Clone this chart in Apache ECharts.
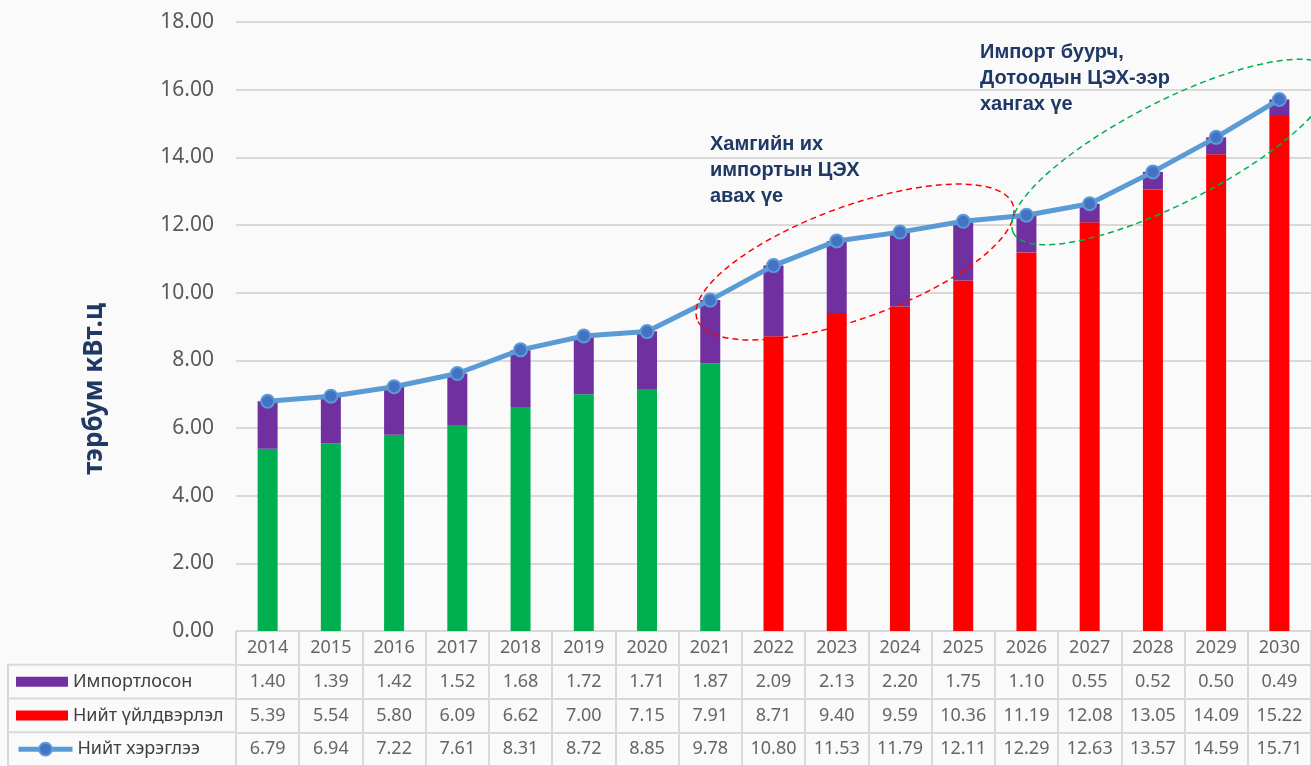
<!DOCTYPE html>
<html><head><meta charset="utf-8">
<script src="https://cdn.jsdelivr.net/npm/echarts@6/dist/echarts.min.js"></script>
<style>html,body{margin:0;padding:0;background:#fafafa}#c{width:1311px;height:766px}</style>
</head><body><div id="c"></div>
<script>
const years = ['2014','2015','2016','2017','2018','2019','2020','2021','2022','2023','2024','2025','2026','2027','2028','2029','2030'];
const imports = [1.40,1.39,1.42,1.52,1.68,1.72,1.71,1.87,2.09,2.13,2.20,1.75,1.10,0.55,0.52,0.50,0.49];
const production = [5.39,5.54,5.80,6.09,6.62,7.00,7.15,7.91,8.71,9.40,9.59,10.36,11.19,12.08,13.05,14.09,15.22];
const consumption = [6.79,6.94,7.22,7.61,8.31,8.72,8.85,9.78,10.80,11.53,11.79,12.11,12.29,12.63,13.57,14.59,15.71];
const seriesNames = ['Импортлосон','Нийт үйлдвэрлэл','Нийт хэрэглээ'];
const lastHistoricYear = '2021';
const yTicks = {min:0, max:18, interval:2};
const annotation1 = 'Хамгийн их\nимпортын ЦЭХ\nавах үе';
const annotation2 = 'Импорт буурч,\nДотоодын ЦЭХ-ээр\nхангах үе';
const yTitle = 'тэрбум кВт.ц';

const FONT = 'Noto Sans';
const GREY = '#404040';
const LINEC = '#d9d9d9';
const histIdx = years.indexOf(lastHistoricYear);

const tableRows = [years, imports.map(v=>v.toFixed(2)), production.map(v=>v.toFixed(2)), consumption.map(v=>v.toFixed(2))];
const cellData = [];
tableRows.forEach((row, r) => row.forEach((t, i) => cellData.push([i, r, t])));

const chart = echarts.init(document.getElementById('c'), null, {renderer:'canvas'});
const rowTop = 631, rowH = 135/4;
function legendCfg(name, idx, opts){
  return Object.assign({
    data:[name], left:16, top: rowTop + rowH*(idx+1) + rowH/2 - 11, padding:0,
    orient:'horizontal', selectedMode:false, itemGap:0,
    textStyle:{fontFamily:FONT, fontSize:18, color:GREY, lineHeight:22}
  }, opts);
}
chart.setOption({
  backgroundColor:'#fafafa',
  animation:false,
  grid:[
    {left:236, right:-3, top:22, bottom:135},
    {left:236, right:-3, top:631, height:135}
  ],
  legend:[
    legendCfg(seriesNames[0],0,{itemWidth:52,itemHeight:10,icon:'rect'}),
    legendCfg(seriesNames[1],1,{itemWidth:52,itemHeight:10,icon:'rect'}),
    legendCfg(seriesNames[2],2,{itemWidth:54,itemHeight:16, lineStyle:{width:5}})
  ],
  xAxis:[
    {type:'category', data:years, gridIndex:0, axisLine:{show:false}, axisTick:{show:false}, axisLabel:{show:false}},
    {type:'category', data:years, gridIndex:1, axisLine:{show:false}, axisTick:{show:false}, axisLabel:{show:false},
     splitLine:{show:true, lineStyle:{color:LINEC, width:2}}}
  ],
  yAxis:[
    {type:'value', gridIndex:0, min:yTicks.min, max:yTicks.max, interval:yTicks.interval,
     axisLine:{show:false}, axisTick:{show:false},
     axisLabel:{formatter:v=>v.toFixed(2), fontFamily:FONT, fontSize:21, color:'#595959', margin:22},
     splitLine:{lineStyle:{color:LINEC, width:2}}},
    {type:'category', gridIndex:1, data:['0','1','2','3'], inverse:true,
     axisLine:{show:false}, axisTick:{show:false}, axisLabel:{show:false},
     splitLine:{show:true, lineStyle:{color:LINEC, width:2}}}
  ],
  series:[
    {name:seriesNames[1], type:'bar', stack:'s', barWidth:20, xAxisIndex:0, yAxisIndex:0,
     itemStyle:{color:'#ff0000'},
     data: production.map((v,i)=> i<=histIdx ? {value:v, itemStyle:{color:'#00b050'}} : v)},
    {name:seriesNames[0], type:'bar', stack:'s', barWidth:20, xAxisIndex:0, yAxisIndex:0,
     itemStyle:{color:'#7030a0'}, data: imports},
    {name:seriesNames[2], type:'line', xAxisIndex:0, yAxisIndex:0, z:5,
     symbol:'circle', symbolSize:13,
     lineStyle:{color:'#5b9bd5', width:5},
     itemStyle:{color:'#4472c4', borderColor:'#5b9bd5', borderWidth:2},
     data: consumption},
    {type:'scatter', xAxisIndex:1, yAxisIndex:1, symbolSize:1, itemStyle:{color:'rgba(0,0,0,0)'},
     silent:true, data: cellData,
     label:{show:true, position:'inside', formatter:p=>p.data[2], fontFamily:FONT, fontSize:18, color:GREY}}
  ],
  graphic:[
    {type:'rect', z:1, shape:{x:8, y:rowTop+rowH, width:228, height:rowH*3},
     style:{fill:'none', stroke:LINEC, lineWidth:2}},
    {type:'line', z:1, shape:{x1:8, y1:rowTop+rowH*2, x2:236, y2:rowTop+rowH*2}, style:{stroke:LINEC, lineWidth:2}},
    {type:'line', z:1, shape:{x1:8, y1:rowTop+rowH*3, x2:236, y2:rowTop+rowH*3}, style:{stroke:LINEC, lineWidth:2}},
    {type:'text', z:10, x:95, y:389, rotation:Math.PI/2,
     style:{text:yTitle, font:'bold 26px "Noto Sans"', fill:'#1f3864', align:'center', verticalAlign:'middle'}},
    {type:'text', z:10, x:710, y:131,
     style:{text:annotation1, font:'bold 20px "Liberation Sans"', fill:'#1f3864', lineHeight:26}},
    {type:'text', z:10, x:980, y:39,
     style:{text:annotation2, font:'bold 20px "Liberation Sans"', fill:'#1f3864', lineHeight:26}},
    {type:'ellipse', z:100, x:855, y:262, rotation:20*Math.PI/180,
     shape:{cx:0, cy:0, rx:168, ry:56},
     style:{fill:'none', stroke:'#ff0000', lineWidth:1.5, lineDash:[6,4]}},
    {type:'ellipse', z:100, x:1172, y:152, rotation:27*Math.PI/180,
     shape:{cx:0, cy:0, rx:178, ry:51},
     style:{fill:'none', stroke:'#00b050', lineWidth:1.5, lineDash:[6,4]}}
  ]
});
</script></body></html>
